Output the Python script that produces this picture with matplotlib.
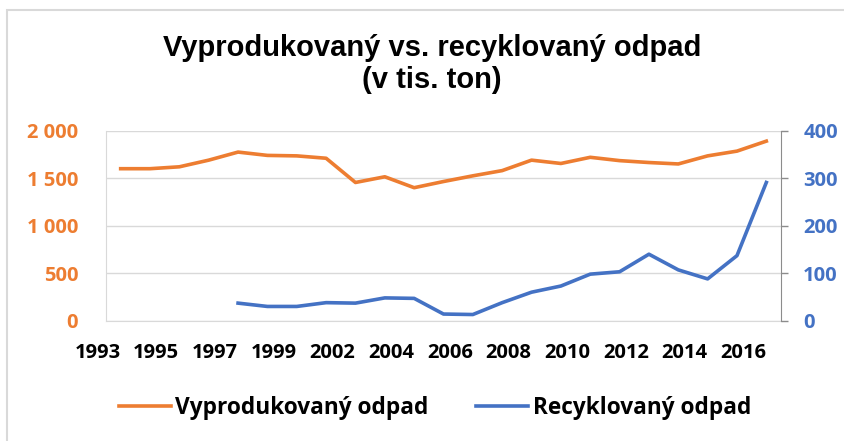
"""
Vyprodukovaný vs. recyklovaný odpad (v tis. ton) -- dual axis line chart.
"""

import matplotlib
matplotlib.use("Agg")
import matplotlib.pyplot as plt
from matplotlib.patches import Rectangle
from matplotlib.ticker import FuncFormatter
from matplotlib.font_manager import FontProperties
import numpy as np

# -- Colours -----------------------------------------------------------------
ORANGE = "#ED7D31"
BLUE   = "#4472C4"
GRID   = "#D9D9D9"
AXIS   = "#8C8C8C"
BLACK  = "#000000"

# -- Data (thousand tonnes) ---------------------------------------------------
years = [1993, 1994, 1995, 1996, 1997, 1998, 1999, 2000,
         2002, 2003, 2004, 2005, 2006, 2007, 2008, 2009,
         2010, 2011, 2012, 2013, 2014, 2015, 2016]

produced = [1600, 1600, 1620, 1690, 1775, 1740, 1735, 1710,
            1455, 1515, 1400, 1465, 1525, 1580, 1690, 1655,
            1720, 1685, 1665, 1650, 1735, 1785, 1890]

recycled = [np.nan, np.nan, np.nan, np.nan, 37, 30, 30, 38,
            37, 48, 47, 14, 13, 38, 60, 73,
            98, 103, 140, 107, 88, 137, 291]

left_ticks  = [0, 500, 1000, 1500, 2000]
right_ticks = [0, 100, 200, 300, 400]

# -- Figure ------------------------------------------------------------------
W, H = 845, 441
fig = plt.figure(figsize=(W / 100, H / 100), dpi=100)
fig.patch.set_facecolor("white")

ax = fig.add_axes([106 / W, 1 - 320.7 / H, 675 / W, 190 / H])
ax2 = ax.twinx()

x = np.arange(len(years))
l1, = ax.plot(x, produced, color=ORANGE, lw=2.6, label="Vyprodukovaný odpad")
l2, = ax2.plot(x, recycled, color=BLUE, lw=2.6, label="Recyklovaný odpad")

ax.set_xlim(-0.5, len(years) - 0.5)
ax.set_ylim(0, 2000)
ax2.set_ylim(0, 400)
ax.set_yticks(left_ticks)
ax2.set_yticks(right_ticks)
ax.yaxis.set_major_formatter(
    FuncFormatter(lambda v, _: f"{int(v):,}".replace(",", " ")))

ax.grid(axis="y", color=GRID, lw=1)
ax.set_axisbelow(True)

tick_fp = FontProperties(family="Open Sans", weight="bold", size=14.5)

ax.set_xticks(x[::2])
ax.set_xticklabels([str(y) for y in years[::2]], ha="right")
ax.tick_params(axis="x", length=0, pad=16, colors=BLACK)
ax.tick_params(axis="y", length=0, pad=20, colors=ORANGE)
ax2.tick_params(axis="y", length=5, width=1, color=AXIS, pad=11,
                labelcolor=BLUE)
for lbl in ax.get_xticklabels() + ax.get_yticklabels() + ax2.get_yticklabels():
    lbl.set_fontproperties(tick_fp)

for s in ("top", "right"):
    ax.spines[s].set_visible(False)
ax.spines["left"].set_color(GRID)
ax.spines["bottom"].set_color(GRID)
for s in ("top", "left", "bottom"):
    ax2.spines[s].set_visible(False)
ax2.spines["right"].set_color(AXIS)

# Title
fig.text(432 / W, 1 - 64 / H,
         "Vyprodukovaný vs. recyklovaný odpad\n(v tis. ton)",
         ha="center", va="center", fontsize=21, fontweight="bold",
         family="Liberation Sans", linespacing=1.15, color=BLACK)

# Legend
fig.legend(handles=[l1, l2], loc="center",
           bbox_to_anchor=(435 / W, 1 - 408 / H), ncol=2, frameon=False,
           prop=FontProperties(family="Open Sans", weight="bold", size=16.3),
           handlelength=2.3, handletextpad=0.2, columnspacing=2.1)

# Chart border (cropped on the right and bottom)
fig.patches.append(Rectangle((7 / W, -0.05), 1.1, 1 - 10 / H + 0.05,
                             transform=fig.transFigure, fill=False,
                             edgecolor=GRID, lw=1.5))

fig.savefig("out.png", dpi=100, facecolor="white")
plt.close(fig)
